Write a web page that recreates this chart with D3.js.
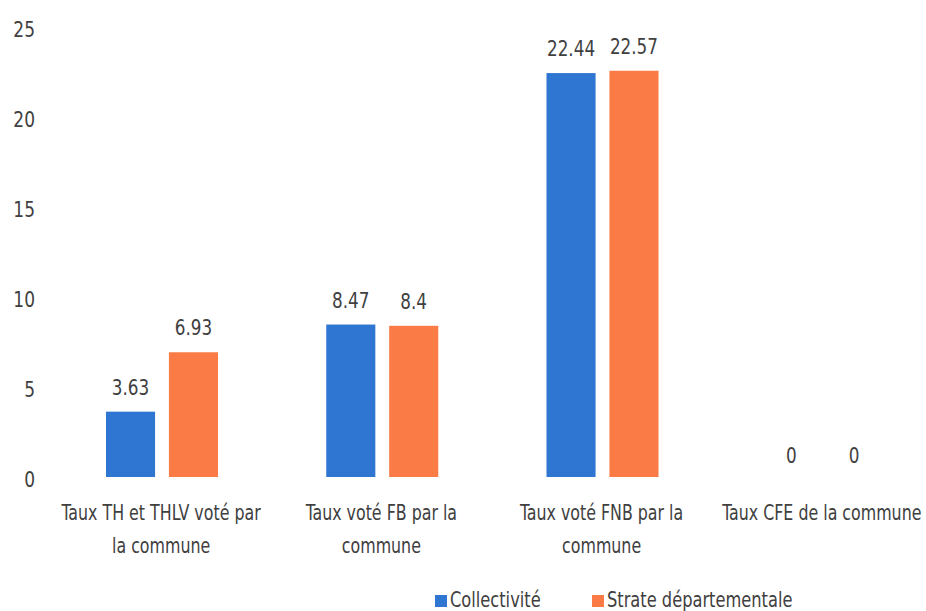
<!DOCTYPE html>
<html>
<head>
<meta charset="utf-8">
<script src="https://cdn.jsdelivr.net/npm/d3@7"></script>
<style>
  body { margin: 0; background: #fff; }
  text { font-family: "DejaVu Sans Condensed", "Liberation Sans Narrow", sans-serif; fill: #404040; }
</style>
</head>
<body>
<svg id="chart"></svg>
<script>
// données du graphique
const categories = [
  ["Taux TH et THLV voté par", "la commune"],
  ["Taux voté FB par la", "commune"],
  ["Taux voté FNB par la", "commune"],
  ["Taux CFE de la commune"]
];
const series = ["Collectivité", "Strate départementale"];
const collectivite = [3.63, 8.47, 22.44, 0];
const strate = [6.93, 8.4, 22.57, 0];
const yTicks = [0, 5, 10, 15, 20, 25];
const colors = ["#2f76d2", "#fb7b47"];

const size = { width: 926, height: 611 };

const svg = d3.select("#chart")
  .attr("width", size.width)
  .attr("height", size.height);

// resserre le texte (la police du modèle est plus étroite)
function squeeze(sel, k) {
  sel.each(function() {
    const w = this.getComputedTextLength();
    d3.select(this)
      .attr("textLength", w * k)
      .attr("lengthAdjust", "spacingAndGlyphs");
  });
}

const catIdx = categories.map((c, i) => i);

// échelles
const x0 = d3.scaleBand()
  .domain(catIdx)
  .range([51, 932]);

const x1 = d3.scaleBand()
  .domain(series)
  .range([55, 167])
  .paddingInner(0.22);

const y = d3.scaleLinear()
  .domain([0, 25])
  .range([477, 27]);

// axe Y (libellés seulement)
const yAxis = d3.axisLeft(y).tickValues(yTicks).tickSize(0).tickPadding(0);
const gy = svg.append("g")
  .attr("transform", "translate(35,3)")
  .call(yAxis);
gy.select(".domain").remove();
gy.selectAll("text")
  .attr("font-size", 21)
  .attr("font-family", null)
  .attr("fill", null)
  .call(squeeze, 0.9);

// barres
const rows = catIdx.map(i => [collectivite[i], strate[i]]);

const groups = svg.append("g")
  .selectAll("g")
  .data(rows)
  .join("g")
  .attr("transform", (d, i) => "translate(" + x0(i) + ",0)");

groups.selectAll("rect")
  .data(d => d.map((v, j) => ({ v: v, s: series[j], j: j })))
  .join("rect")
  .attr("x", d => x1(d.s))
  .attr("y", d => y(d.v))
  .attr("width", x1.bandwidth())
  .attr("height", d => y(0) - y(d.v))
  .attr("fill", d => colors[d.j]);

groups.selectAll("text.val")
  .data(d => d.map((v, j) => ({ v: v, s: series[j], j: j })))
  .join("text")
  .attr("class", "val")
  .attr("x", d => x1(d.s) + x1.bandwidth() / 2)
  .attr("y", d => y(d.v) - (d.v === 0 ? 14 : 17))
  .attr("text-anchor", "middle")
  .attr("font-size", 21)
  .text(d => d.v)
  .call(squeeze, 0.89);

// axe X : libellés des catégories
const xAxis = d3.axisBottom(x0).tickSize(0).tickFormat(() => "");
svg.append("g")
  .attr("transform", "translate(0," + y(0) + ")")
  .call(xAxis)
  .select(".domain").remove();

const lines = [];
categories.forEach((c, i) => c.forEach((t, k) => lines.push({ i: i, k: k, t: t })));

svg.append("g")
  .selectAll("text")
  .data(lines)
  .join("text")
  .attr("x", d => x0(d.i) + x0.bandwidth() / 2)
  .attr("y", d => 520 + d.k * 33)
  .attr("text-anchor", "middle")
  .attr("font-size", 22)
  .text(d => d.t)
  .call(squeeze, 0.8);

// légende
const legendX = [435, 592];
const legend = svg.append("g")
  .selectAll("g")
  .data(series)
  .join("g")
  .attr("transform", (d, i) => "translate(" + legendX[i] + ",595)");

legend.append("rect")
  .attr("width", 12)
  .attr("height", 12)
  .attr("fill", (d, i) => colors[i]);

legend.append("text")
  .attr("x", 15)
  .attr("y", 12)
  .attr("font-size", 21)
  .text(d => d)
  .call(squeeze, 0.86);
</script>
</body>
</html>
